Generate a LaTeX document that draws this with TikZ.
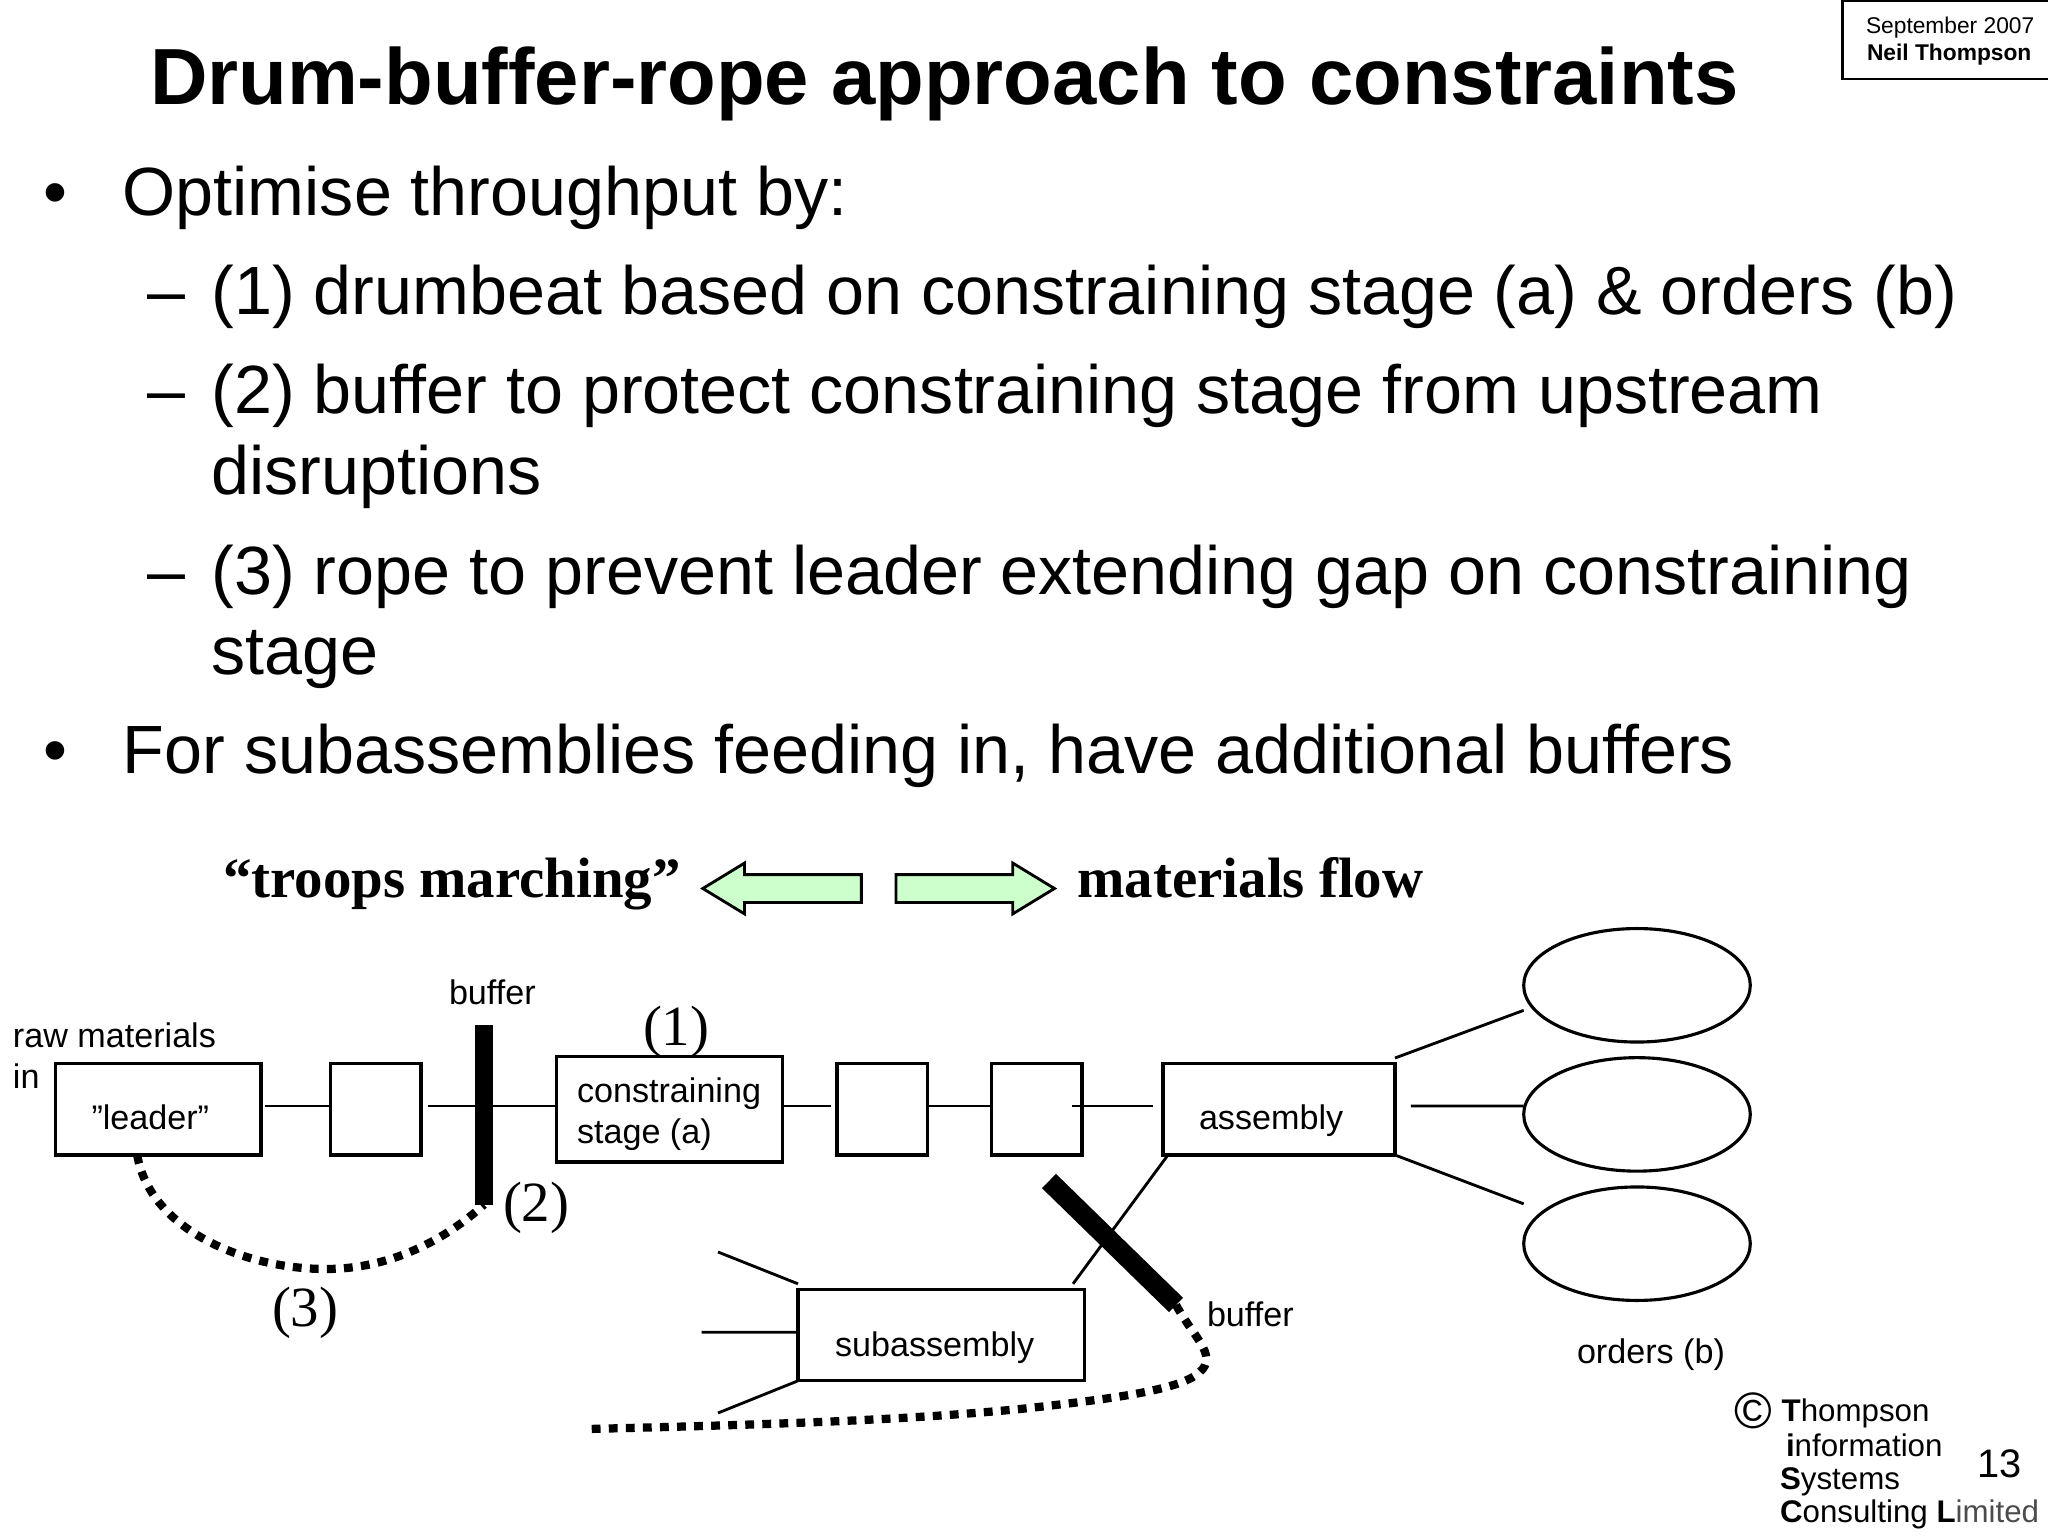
\documentclass[tikz,border=0pt]{standalone}
\usepackage{fontspec}
\setmainfont{Liberation Sans}
\newfontfamily\serifface{Liberation Serif}
\usetikzlibrary{shapes.geometric,shapes.arrows}
\newcommand{\px}{0.3515625pt}
\newcommand{\fsize}[1]{\fontsize{#1}{#1}\selectfont}

\begin{document}
\begin{tikzpicture}[x=0.3515625pt,y=-0.3515625pt]
		\tikzstyle{lbl}=[anchor=base west, inner sep=0pt, outer sep=0pt]
		\tikzstyle{headline}=[lbl, font=\fsize{28}\bfseries]
		\tikzstyle{body}=[lbl, font=\fsize{24}]
		\tikzstyle{small}=[lbl, font=\fsize{12}]
		\tikzstyle{numeral}=[lbl, font=\fsize{20}\serifface]
		\tikzstyle{flow}=[lbl, font=\fsize{20}\serifface\bfseries]
		\tikzstyle{logo}=[lbl, font=\fsize{11}]
		\tikzstyle{stagebox}=[rectangle, draw=black, line width=1.1pt, inner sep=0pt, outer sep=0pt, minimum height=91.3*\px]
		\tikzstyle{order}=[ellipse, draw=black, line width=1.1pt, inner sep=0pt, outer sep=0pt, minimum width=226.6*\px, minimum height=113.5*\px]
		\tikzstyle{bar}=[rectangle, fill=black, inner sep=0pt, outer sep=0pt]
		\tikzstyle{connect}=[line width=1pt]
		\tikzstyle{rope}=[line width=2.9pt, dash pattern=on 3.1pt off 2.9pt]
		\tikzstyle{bigarrow}=[single arrow, draw=black, line width=1pt, fill=green!20, inner sep=0pt, outer sep=0pt, text height=25*\px, text depth=0pt, minimum height=158.5*\px, single arrow head extend=11.5*\px, single arrow tip angle=62.7, single arrow head indent=0pt]
		\useasboundingbox (0,0) rectangle (2048,1536);
		% slide text
		\node[headline] (title) at (150,104.5) {Drum-buffer-rope approach to constraints};
		\node[rectangle, draw=black, line width=1pt, inner sep=0pt, minimum width=217*\px, minimum height=78*\px] (datebox) at (1951,40) { };
		\node[lbl, font=\fsize{8}] (date) at (1866,34) {September 2007};
		\node[lbl, font=\fsize{8}\bfseries] (name) at (1867,61) {Neil Thompson};
		\node[body] (dota) at (43,215.5) {•};
		\node[body] (opt) at (122.7,215.5) {Optimise throughput by:};
		\node[body] (dasha) at (147.6,314.7) {–};
		\node[body] (one) at (211.6,314.7) {(1) drumbeat based on constraining stage (a) \& orders (b)};
		\node[body] (dashb) at (147.6,414) {–};
		\node[body] (two) at (211.6,414) {(2) buffer to protect constraining stage from upstream};
		\node[body] (twob) at (211.6,495) {disruptions};
		\node[body] (dashc) at (147.6,594) {–};
		\node[body] (three) at (211.6,594) {(3) rope to prevent leader extending gap on constraining};
		\node[body] (threeb) at (211.6,675) {stage};
		\node[body] (dotb) at (43,773) {•};
		\node[body] (subs) at (122.7,773) {For subassemblies feeding in, have additional buffers};
		% direction arrows
		\node[flow] (troops) at (223,897.5) {“troops marching”};
		\node[flow] (materials) at (1077.5,897.5) {materials flow};
		\node[bigarrow, shape border rotate=180] (arrowl) at (793.5,888.5) { };
		\node[bigarrow] (arrowr) at (963.8,888.5) { };
		% main line
		\node[stagebox, minimum width=205.5*\px] (leader) at (158.25,1109.35) { };
		\node[stagebox, minimum width=90.5*\px] (box2) at (375.75,1109.35) { };
		\node[stagebox, minimum width=226*\px, minimum height=105.2*\px] (constraint) at (669.5,1109.35) { };
		\node[stagebox, minimum width=90.5*\px] (box3) at (882.25,1109.35) { };
		\node[stagebox, minimum width=90.5*\px] (box4) at (1036.75,1109.35) { };
		\node[stagebox, minimum width=232*\px] (assembly) at (1279,1109.35) { };
		\node[stagebox, minimum width=286.7*\px] (sub) at (941.35,1335.15) { };
		\node[order] (orders1) at (1637,985.3) { };
		\node[order] (orders2) at (1637,1114.4) { };
		\node[order] (orders3) at (1637,1243.7) { };
		\coordinate (subin1) at (718,1252);
		\coordinate (subin2) at (701.5,1332.3);
		\coordinate (subin3) at (718,1413);
		\coordinate (ropeend) at (588,1429);
		\path ([yshift=1.18pt]leader.east) edge [connect, shorten <=1.4pt] ([yshift=1.18pt]box2.west)
		([yshift=1.18pt]box2.east) edge [connect, shorten <=2.5pt] ([yshift=1.18pt]constraint.west)
		([yshift=1.18pt]constraint.east) edge [connect, shorten >=2pt] ([yshift=1.18pt]box3.west)
		([yshift=1.18pt]box3.east) edge [connect] ([yshift=1.18pt]box4.west)
		([xshift=-3.5pt,yshift=1.18pt]box4.east) edge [connect, shorten >=3.5pt] ([yshift=1.18pt]assembly.west)
		([yshift=2pt]assembly.north east) edge [connect] ([yshift=-8.8pt]orders1.west)
		([yshift=1.18pt]assembly.east) edge [connect, shorten <=5.6pt] ([yshift=2.95pt]orders2.west)
		(assembly.south east) edge [connect] ([yshift=14pt]orders3.west)
		(subin1) edge [connect] ([yshift=2pt]sub.north west)
		(subin2) edge [connect] ([yshift=1pt]sub.west)
		(subin3) edge [connect] (sub.south west)
		([xshift=-4.1pt,yshift=2pt]sub.north east) edge [connect] ([xshift=1.75pt]assembly.south west);
		% buffers and ropes
		\node[bar, minimum width=18*\px, minimum height=179.6*\px] (bar1) at (484,1114.8) { };
		\node[bar, minimum width=177.5*\px, minimum height=20*\px, rotate=-44.3] (bar2) at (1112.5,1243) { };
		\draw[rope] ([xshift=-7.4pt]leader.south) .. controls (150,1230) and (245,1269) .. (326,1269) .. controls (390,1269) and (445,1240) .. (bar1.south);
		\draw[rope] (bar2.east) .. controls (1195,1340) and (1222,1358) .. (1195,1375.7) .. controls (1170,1392) and (1100,1400) .. (1024,1408.6) .. controls (900,1421) and (750,1425) .. (ropeend);
		% labels
		\node[small] (lbuffer) at (449,1004.7) {buffer};
		\node[small] (lraw) at (13,1047.5) {raw materials};
		\node[small] (lin) at (13,1088) {in};
		\node[small] (lleader) at (91.5,1129.4) {”leader”};
		\node[small] (lconstr) at (577,1102.4) {constraining};
		\node[small] (lstage) at (577,1143) {stage (a)};
		\node[small] (lassembly) at (1199,1129.4) {assembly};
		\node[small] (lsub) at (835,1356) {subassembly};
		\node[small] (lbufferb) at (1207,1326.6) {buffer};
		\node[small] (lorders) at (1577,1363.5) {orders (b)};
		\node[numeral] (mone) at (643,1045) {(1)};
		\node[numeral] (mtwo) at (503,1221.7) {(2)};
		\node[numeral] (mthree) at (272,1326) {(3)};
		% footer
		\node[lbl, font=\fsize{18}] (copy) at (1734,1428) {©};
		\node[logo] (logoa) at (1781.7,1421.7) {\textbf{T}hompson};
		\node[logo] (logob) at (1786,1456) {\textbf{i}nformation};
		\node[logo] (logoc) at (1780,1489) {\textbf{S}ystems};
		\node[logo] (logod) at (1780,1522.7) {\textbf{C}onsulting \textbf{L}\textcolor{black!70}{imited}};
		\node[lbl, font=\fsize{14}] (page) at (1977,1477) {13};
\end{tikzpicture}
\end{document}
